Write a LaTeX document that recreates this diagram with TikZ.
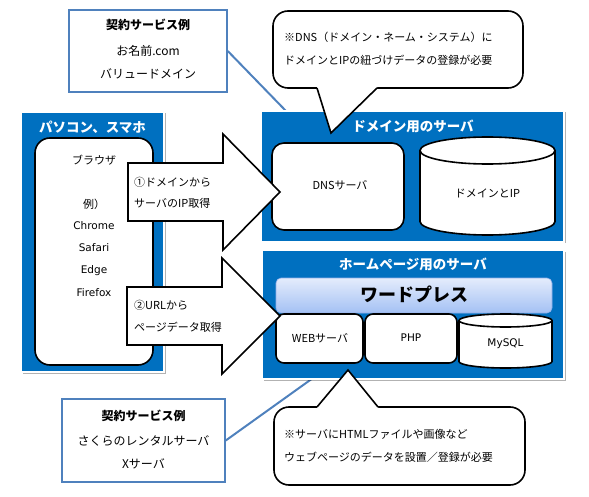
\documentclass[tikz,border=0pt]{standalone}
\usepackage{fontspec}
\setmainfont{Noto Sans CJK JP}
\newfontfamily\latfont{DejaVu Sans}
\usetikzlibrary{shadows,calc}
\definecolor{mblue}{HTML}{0070C0}
\definecolor{steel}{HTML}{4F81BD}
\definecolor{wpTop}{HTML}{E4ECFC}
\definecolor{wpBot}{HTML}{A4C1F4}
\definecolor{wpEdge}{HTML}{8EAEE8}
\begin{document}
\begin{tikzpicture}[x=1pt,y=-1pt,
  bluebox/.style={fill=mblue, draw=white, line width=1.5pt, inner sep=0pt,
    drop shadow={shadow xshift=1.5pt, shadow yshift=-1.5pt, opacity=0.3, fill=black}},
  whitebox/.style={fill=white, draw=black, line width=1.6pt, inner sep=0pt},
  stbox/.style={fill=white, draw=steel, line width=1.5pt, inner sep=0pt},
  stline/.style={draw=steel, line width=2pt},
  blk/.style={draw=black, line width=1.6pt, line join=miter},
  wpbar/.style={top color=wpTop, bottom color=wpBot, draw=wpEdge, line width=0.6pt, inner sep=0pt},
  txt/.style={font=\fontsize{11}{13}\selectfont, inner sep=0pt},
  lat/.style={font=\latfont\fontsize{10.5}{12}\selectfont, inner sep=0pt},
  boxtxt/.style={font=\fontsize{12}{14}\selectfont, inner sep=0pt},
  boxhead/.style={font=\bfseries\fontsize{12}{14}\selectfont, inner sep=0pt},
  title/.style={font=\bfseries\fontsize{13.5}{16}\selectfont, text=white, inner sep=0pt},
]
\useasboundingbox (0,0) rectangle (589,497);

% example boxes and their connectors
\node[stbox, minimum width=158pt, minimum height=82pt] (tl) at (148,51) {};
\node[boxhead] (tl1) at (148,25) {契約サービス例};
\node[boxtxt] (tl2) at (148,51) {お名前.com};
\node[boxtxt] (tl3) at (148,74) {バリュードメイン};
\node[stbox, minimum width=163pt, minimum height=83pt] (bl) at (143.5,440.5) {};
\node[boxhead] (bl1) at (143.5,416) {契約サービス例};
\node[boxtxt] (bl2) at (143.5,441) {さくらのレンタルサーバ};
\node[boxtxt] (bl3) at (143.5,464) {Xサーバ};
\coordinate (c1) at (286,111);
\coordinate (c2) at (313,378);
\draw[stline] (tl.east) -- (c1);
\draw[stline] (bl.east) -- (c2);

% PC box
\node[bluebox, minimum width=143pt, minimum height=260pt] (pc) at (92.5,242) {};
\node[title] (pct) at (92.5,127) {パソコン、スマホ};
\node[whitebox, rounded corners=15pt, minimum width=118pt, minimum height=227pt] (br) at (94,251.5) {};
\node[txt] (b1) at (94,160) {ブラウザ};
\node[txt] (b2) at (94,204) {例）};
\node[lat] (b3) at (94,226) {Chrome};
\node[lat] (b4) at (94,248) {Safari};
\node[lat] (b5) at (94,271) {Edge};
\node[lat] (b6) at (94,293) {Firefox};

% domain server
\node[bluebox, minimum width=303pt, minimum height=131pt] (dom) at (412.5,176.5) {};
\node[title] (domt) at (413,126) {ドメイン用のサーバ};
\node[whitebox, rounded corners=12pt, minimum width=132pt, minimum height=87pt] (dns) at (338,186.5) {};
\node[txt] (dnst) at (340,185) {DNSサーバ};
\draw[blk, fill=white] (420,150.5) -- (420,221.5) arc[start angle=180, end angle=0, x radius=67.5, y radius=13.5]
  -- (555,150.5) arc[start angle=0, end angle=-180, x radius=67.5, y radius=13.5] -- cycle;
\draw[blk] (420,150.5) arc[start angle=180, end angle=0, x radius=67.5, y radius=13.5];
\node[txt] (ipt) at (487.5,193) {ドメインとIP};

% homepage server
\node[bluebox, minimum width=302pt, minimum height=129pt] (hp) at (413,314.5) {};
\node[title] (hpt) at (413,264) {ホームページ用のサーバ};
\node[wpbar, rounded corners=5pt, minimum width=276pt, minimum height=35pt] (wp) at (414,295.5) {};
\node[font=\bfseries\fontsize{18}{20}\selectfont, inner sep=0pt] (wpt) at (414,294) {ワードプレス};
\node[whitebox, rounded corners=8pt, minimum width=87pt, minimum height=49pt] (web) at (319.5,338.5) {};
\node[txt] (webt) at (320,338) {WEBサーバ};
\node[whitebox, rounded corners=8pt, minimum width=92pt, minimum height=49pt] (php) at (411,338.5) {};
\node[lat] (phpt) at (411,338) {PHP};
\draw[blk, fill=white] (459,320.5) -- (459,361.5) arc[start angle=180, end angle=0, x radius=46.5, y radius=6.5]
  -- (552,320.5) arc[start angle=0, end angle=-180, x radius=46.5, y radius=6.5] -- cycle;
\draw[blk] (459,320.5) arc[start angle=180, end angle=0, x radius=46.5, y radius=6.5];
\node[lat] (sqlt) at (505.5,344) {MySQL};

% arrows
\draw[blk, fill=white] (128,163) -- (223,163) -- (223,134) -- (280,192) -- (223,250) -- (223,221) -- (128,221) -- cycle;
\node[txt, anchor=west] (a1) at (134,182) {①ドメインから};
\node[txt, anchor=west] (a2) at (134,203) {サーバのIP取得};
\draw[blk, fill=white] (127,287) -- (222,287) -- (222,258) -- (280,316) -- (222,374) -- (222,345) -- (127,345) -- cycle;
\node[txt, anchor=west] (a3) at (134,305) {②URLから};
\node[txt, anchor=west] (a4) at (134,327) {ページデータ取得};

% top bubble
\draw[blk, fill=white, rounded corners=15pt] (273,11) rectangle (523,88);
\fill[white] (317,86) -- (317,88) -- (331,133) -- (377,88) -- (377,86) -- cycle;
\draw[blk] (317,88) -- (331,133) -- (377,88);
\node[txt, anchor=west] (n1) at (284,37) {※DNS（ドメイン・ネーム・システム）に};
\node[txt, anchor=west] (n2) at (284,60) {ドメインとIPの紐づけデータの登録が必要};

% bottom bubble
\draw[blk, fill=white, rounded corners=15pt] (274,407) rectangle (525,485);
\fill[white] (317,409) -- (317,407) -- (348,370) -- (378,407) -- (378,409) -- cycle;
\draw[blk] (317,407) -- (348,370) -- (378,407);
\node[txt, anchor=west] (n3) at (284,434) {※サーバにHTMLファイルや画像など};
\node[txt, anchor=west] (n4) at (284,457) {ウェブページのデータを設置／登録が必要};
\end{tikzpicture}
\end{document}
